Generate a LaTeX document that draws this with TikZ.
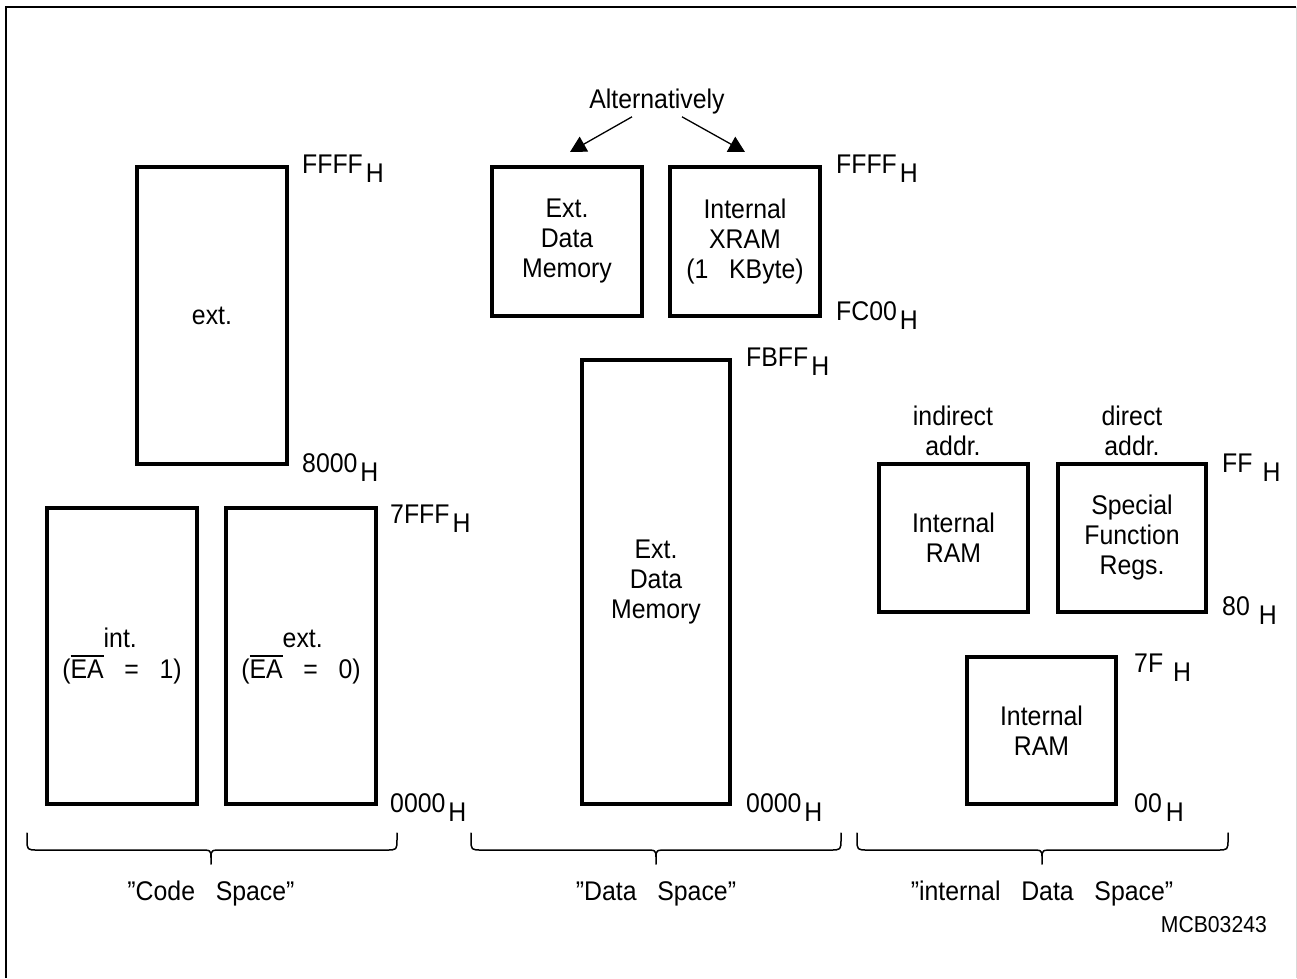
\documentclass[tikz,border=0pt]{standalone}
\usepackage{fontspec}
\setmainfont{Liberation Sans}[WordSpace=3,FakeStretch=0.92]
\usetikzlibrary{arrows.meta}
\newcommand\hsub[2][3pt]{#2\kern#1\raisebox{-9pt}{H}}
\newcommand\ovl[1]{\leavevmode\vbox{\hrule height 1.6pt\kern 2.5pt\hbox{#1}}}
\newcommand\bracepath[3]{%
  \draw[brace] (#1,833) -- (#1,839) .. controls (#1,850) .. ({#1+11},850) -- ({#2-12},850)
    .. controls (#2,850) .. (#2,858) -- (#2,864)
    (#2,858) .. controls (#2,850) .. ({#2+12},850) -- ({#3-11},850)
    .. controls (#3,850) .. (#3,839) -- (#3,833);}
\begin{document}
\begin{tikzpicture}[x=1pt,y=-1pt,
  font=\fontsize{27}{30}\selectfont,
  box/.style={draw, line width=4pt, inner sep=0pt, align=center},
  addr/.style={anchor=base west, inner sep=0pt},
  lbl/.style={anchor=base, inner sep=0pt, align=center},
  brace/.style={line width=1.5pt, line cap=round, line join=round},
  arr/.style={line width=1.3pt, -{Triangle[length=16pt,width=17pt]}}]
\useasboundingbox (0,0) rectangle (1297,978);
% frame
\draw[line width=2.5pt] (6,978) -- (6,7) -- (1296,7);
\draw[line width=1pt, black!15] (1296,7) -- (1296,978);

% ---------- Code space ----------
\node[box, minimum width=150pt, minimum height=297pt] (cext) at (212,315.5) {ext.};
\node[box, minimum width=150pt, minimum height=296pt] (cint) at (122,656) {};
\node[box, minimum width=150pt, minimum height=296pt] (cext2) at (301,656) {};
\node[lbl] (cintt) at (122,678) {(\ovl{EA}\rlap{\raisebox{31pt}{int.}} = 1)};
\node[lbl] (cextt) at (301,678) {(\ovl{EA}\rlap{\raisebox{31pt}{ext.}} = 0)};
\node[addr] (a1) at (302,173) {\hsub{FFFF}};
\node[addr] (a2) at (302,472) {\hsub{8000}};
\node[addr] (a3) at (390,523) {\hsub{7FFF}};
\node[addr] (a4) at (390,812) {\hsub{0000}};

% ---------- Data space ----------
\node[lbl] (alt) at (657,108) {Alternatively};
\coordinate (tipL) at (570,152);
\coordinate (tipR) at (745,152);
\draw[arr] ([xshift=-25pt,yshift=-3pt]alt.south) -- (tipL);
\draw[arr] ([xshift=25pt,yshift=-3pt]alt.south) -- (tipR);
\node[box, minimum width=150pt, minimum height=149pt] (dext) at (567,241.5) {Ext.\\Data\\Memory};
\node[box, minimum width=150pt, minimum height=149pt] (dxram) at (745,241.5) {Internal\\XRAM\\(1 KByte)};
\node[box, minimum width=148pt, minimum height=444pt] (dbig) at (656,582) {Ext.\\Data\\Memory};
\node[addr] (b1) at (836,173) {\hsub{FFFF}};
\node[addr] (b2) at (836,320) {\hsub{FC00}};
\node[addr] (b3) at (746,366) {\hsub{FBFF}};
\node[addr] (b4) at (746,812) {\hsub{0000}};

% ---------- internal data space ----------
\node[lbl] (ind) at (953,455) {indirect\\addr.};
\node[lbl] (dir) at (1132,455) {direct\\addr.};
\node[box, minimum width=149pt, minimum height=148pt] (iram) at (953.5,538) {Internal\\RAM};
\node[box, minimum width=148pt, minimum height=148pt] (sfr) at (1132,538) {Special\\Function\\Regs.};
\node[box, minimum width=149pt, minimum height=147pt] (iram2) at (1041.5,730.5) {Internal\\RAM};
\node[addr] (c1) at (1222,472) {\hsub[10pt]{FF}};
\node[addr] (c2) at (1222,615) {\hsub[9pt]{80}};
\node[addr] (c3) at (1134,672) {\hsub[10pt]{7F}};
\node[addr] (c4) at (1134,812) {\hsub[4pt]{00}};

% ---------- braces ----------
\bracepath{27}{211}{397}
\bracepath{471}{656}{841}
\bracepath{857}{1042}{1228}
\node[lbl] (cs) at (211,900) {”Code Space”};
\node[lbl] (ds) at (656,900) {”Data Space”};
\node[lbl] (is) at (1042,900) {”internal Data Space”};
\node[anchor=base east, inner sep=0pt, font=\fontsize{23}{26}\selectfont] (mcb) at (1267,932) {MCB03243};
\end{tikzpicture}
\end{document}
